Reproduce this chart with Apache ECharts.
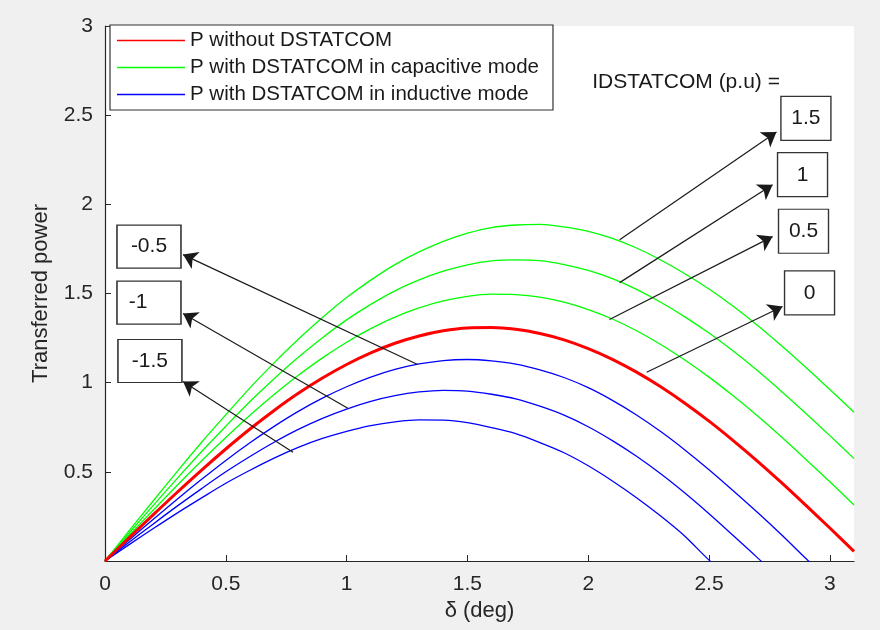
<!DOCTYPE html>
<html>
<head>
<meta charset="utf-8">
<script src="https://cdn.jsdelivr.net/npm/echarts@6/dist/echarts.min.js"></script>
<style>
  html, body { margin: 0; padding: 0; background: #f0f0f0; }
  #chart { width: 880px; height: 630px; }
</style>
</head>
<body>
<div id="chart"></div>
<script>
// load angle (x) and transferred power curves
const delta = [0, 0.1, 0.2, 0.3, 0.4, 0.5, 0.6, 0.7, 0.8, 0.9, 1.0, 1.1, 1.2, 1.3, 1.4, 1.5,
  1.6, 1.7, 1.8, 1.9, 2.0, 2.1, 2.2, 2.3, 2.4, 2.5, 2.6, 2.7, 2.8, 2.9, 3.0, 3.1];

const pNoComp = [0, 0.131, 0.260, 0.387, 0.510, 0.628, 0.740, 0.844, 0.940, 1.026, 1.102, 1.167,
  1.221, 1.262, 1.291, 1.307, 1.309, 1.299, 1.276, 1.240, 1.191, 1.131, 1.059, 0.977, 0.885,
  0.784, 0.675, 0.560, 0.439, 0.313, 0.185, 0.054];

const pCap05 = [0, 0.144, 0.286, 0.426, 0.562, 0.692, 0.817, 0.933, 1.041, 1.139, 1.227, 1.303,
  1.368, 1.419, 1.458, 1.484, 1.496, 1.494, 1.480, 1.451, 1.410, 1.357, 1.291, 1.214, 1.127,
  1.031, 0.926, 0.814, 0.695, 0.571, 0.444, 0.314];

const pCap1 = [0, 0.157, 0.312, 0.465, 0.614, 0.756, 0.894, 1.022, 1.142, 1.252, 1.352, 1.439,
  1.515, 1.576, 1.625, 1.661, 1.683, 1.689, 1.684, 1.662, 1.629, 1.583, 1.523, 1.451, 1.369,
  1.278, 1.177, 1.068, 0.951, 0.829, 0.703, 0.574];

const pCap15 = [0, 0.170, 0.338, 0.504, 0.666, 0.820, 0.971, 1.111, 1.243, 1.365, 1.477, 1.575,
  1.662, 1.733, 1.792, 1.838, 1.870, 1.884, 1.888, 1.873, 1.848, 1.809, 1.755, 1.688, 1.611,
  1.525, 1.428, 1.322, 1.207, 1.087, 0.962, 0.834];

const pInd05 = [0, 0.118, 0.234, 0.348, 0.458, 0.564, 0.663, 0.755, 0.839, 0.913, 0.977, 1.031,
  1.074, 1.105, 1.124, 1.130, 1.122, 1.104, 1.072, 1.029, 0.972, 0.901, 0.819, 0.726, 0.623,
  0.512, 0.394, 0.273, 0.147, 0.015, -0.114, -0.246];

const pInd1 = [0, 0.105, 0.208, 0.309, 0.406, 0.500, 0.586, 0.666, 0.738, 0.800, 0.852, 0.895,
  0.927, 0.948, 0.957, 0.953, 0.935, 0.909, 0.868, 0.818, 0.753, 0.675, 0.587, 0.489, 0.381,
  0.265, 0.143, 0.019, -0.109, -0.243, -0.373, -0.506];

const pInd15 = [0, 0.092, 0.182, 0.270, 0.354, 0.436, 0.509, 0.577, 0.637, 0.687, 0.727, 0.759,
  0.780, 0.791, 0.790, 0.776, 0.748, 0.714, 0.664, 0.607, 0.534, 0.449, 0.355, 0.252, 0.139,
  0.005, -0.108, -0.235, -0.365, -0.500, -0.630, -0.770];

const legendNames = ['P without DSTATCOM', 'P with DSTATCOM in capacitive mode', 'P with DSTATCOM in inductive mode'];

// IDSTATCOM annotations: label, box centre, arrow tail (on curve) and arrow tip
const boxLabels = ['1.5', '1', '0.5', '0', '-0.5', '-1', '-1.5'];
const boxCentre = [[2.901, 2.482], [2.887, 2.166], [2.891, 1.849], [2.916, 1.503],
  [0.182, 1.763], [0.182, 1.449], [0.186, 1.122]];
const arrowFrom = [[2.130, 1.802], [2.130, 1.561], [2.088, 1.354], [2.242, 1.058],
  [1.294, 1.102], [1.005, 0.856], [0.778, 0.610]];
const arrowTo = [[2.779, 2.406], [2.763, 2.110], [2.763, 1.819], [2.804, 1.427],
  [0.323, 1.718], [0.323, 1.388], [0.323, 1.007]];
const headerText = 'IDSTATCOM (p.u) =';
const headerPos = [2.405, 2.686];

const FONT = "'Liberation Sans', Arial, sans-serif";
const AXIS_COLOR = '#262626';

const toPairs = (vals) => delta.map((d, i) => [d, vals[i]]);

const lineSeries = (name, vals, color, width) => ({
    type: 'line',
    name: name,
    data: toPairs(vals),
    smooth: 0.3,
    symbol: 'none',
    clip: true,
    lineStyle: { color: color, width: width },
    itemStyle: { color: color },
    z: 2
});

const markBoxes = boxLabels.map((t, i) => {
    const left = i >= 4;
    return {
        coord: boxCentre[i],
        value: t,
        symbolSize: left ? [64, 43] : [50, 44],
        label: { offset: t === '-1' ? [-11, 0] : [0, 0] }
    };
});
// header text, drawn as an invisible box
markBoxes.push({
    coord: headerPos,
    value: headerText,
    symbolSize: [210, 22],
    itemStyle: { color: 'rgba(0,0,0,0)', borderWidth: 0 },
    label: { fontSize: 21 }
});

const arrows = arrowFrom.map((p, i) => [{ coord: p }, { coord: arrowTo[i] }]);

const redSeries = lineSeries(legendNames[0], pNoComp, '#ff0000', 3);
redSeries.z = 3;
redSeries.markLine = {
    silent: true,
    symbol: ['none', 'arrow'],
    symbolSize: 14,
    lineStyle: { color: '#1a1a1a', width: 1.2, type: 'solid' },
    label: { show: false },
    data: arrows
};
redSeries.markPoint = {
    silent: true,
    symbol: 'rect',
    itemStyle: { color: '#ffffff', borderColor: '#333333', borderWidth: 1.3 },
    label: {
        show: true,
        position: 'inside',
        formatter: '{c}',
        color: '#1a1a1a',
        fontSize: 21,
        fontFamily: FONT
    },
    data: markBoxes
};

const option = {
    animation: false,
    backgroundColor: '#f0f0f0',
    grid: {
        left: 105,
        right: 26,
        top: 26,
        bottom: 69,
        show: true,
        backgroundColor: '#ffffff',
        borderWidth: 0
    },
    legend: {
        data: legendNames,
        orient: 'vertical',
        left: 110,
        top: 25,
        icon: 'rect',
        itemWidth: 68,
        itemHeight: 1.6,
        itemGap: 6,
        padding: [5, 14, 5, 7],
        backgroundColor: '#ffffff',
        borderColor: '#333333',
        borderWidth: 1.2,
        borderRadius: 0,
        selectedMode: false,
        textStyle: { fontSize: 20.5, lineHeight: 20, color: '#1a1a1a', fontFamily: FONT }
    },
    xAxis: {
        type: 'value',
        min: 0,
        max: 3.1,
        interval: 0.5,
        name: 'δ (deg)',
        nameLocation: 'middle',
        nameGap: 31,
        nameTextStyle: { fontSize: 22, color: AXIS_COLOR, fontFamily: FONT },
        axisLine: { show: true, lineStyle: { color: AXIS_COLOR, width: 1.2 } },
        axisTick: { show: true, inside: true, length: 6, lineStyle: { color: AXIS_COLOR } },
        splitLine: { show: false },
        axisLabel: {
            margin: 13,
            fontSize: 21,
            color: AXIS_COLOR,
            fontFamily: FONT,
            showMaxLabel: false
        }
    },
    yAxis: {
        type: 'value',
        min: 0,
        max: 3,
        interval: 0.5,
        name: 'Transferred power',
        nameLocation: 'middle',
        nameGap: 53,
        nameTextStyle: { fontSize: 22, color: AXIS_COLOR, fontFamily: FONT },
        axisLine: { show: true, lineStyle: { color: AXIS_COLOR, width: 1.2 } },
        axisTick: { show: true, inside: true, length: 6, lineStyle: { color: AXIS_COLOR } },
        splitLine: { show: false },
        axisLabel: {
            margin: 12,
            fontSize: 21,
            color: AXIS_COLOR,
            fontFamily: FONT,
            formatter: (v) => (v === 0 ? '' : String(v))
        }
    },
    series: [
        lineSeries(legendNames[1], pCap05, '#00ff00', 1.3),
        lineSeries(legendNames[1], pCap1, '#00ff00', 1.3),
        lineSeries(legendNames[1], pCap15, '#00ff00', 1.3),
        lineSeries(legendNames[2], pInd05, '#0000ff', 1.3),
        lineSeries(legendNames[2], pInd1, '#0000ff', 1.3),
        lineSeries(legendNames[2], pInd15, '#0000ff', 1.3),
        redSeries
    ]
};

const chart = echarts.init(document.getElementById('chart'));
chart.setOption(option);
</script>
</body>
</html>
